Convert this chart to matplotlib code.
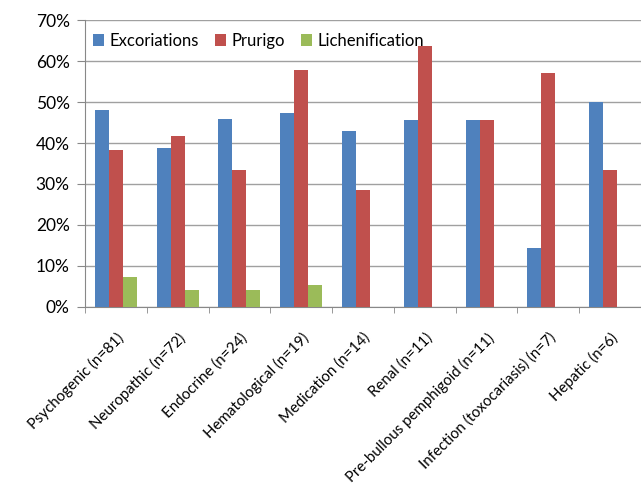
import matplotlib
matplotlib.use("Agg")
from matplotlib import pyplot as plt
from matplotlib.ticker import FixedLocator, PercentFormatter
import numpy as np

categories = ["Psychogenic (n=81)", "Neuropathic (n=72)", "Endocrine (n=24)",
              "Hematological (n=19)", "Medication (n=14)", "Renal (n=11)",
              "Pre-bullous pemphigoid (n=11)", "Infection (toxocariasis) (n=7)",
              "Hepatic (n=6)"]
excoriations = [48.1, 38.9, 45.8, 47.4, 42.9, 45.5, 45.5, 14.3, 50.0]
prurigo = [38.3, 41.7, 33.3, 57.9, 28.6, 63.6, 45.5, 57.1, 33.3]
lichenification = [7.4, 4.2, 4.2, 5.3, 0, 0, 0, 0, 0]

plt.rcParams['font.family'] = ['Lato', 'DejaVu Sans']

fig = plt.figure(figsize=(6.41, 4.91), dpi=100)
ax = fig.add_axes([0.1326, 0.375, 0.8674, 0.584])

x = np.arange(len(categories))
w = 0.226
ax.bar(x - w, excoriations, w, color="#4F81BD", label="Excoriations", zorder=3)
ax.bar(x, prurigo, w, color="#C0504D", label="Prurigo", zorder=3)
ax.bar(x + w, lichenification, w, color="#9BBB59", label="Lichenification", zorder=3)

ax.set_ylim(0, 70)
ax.set_xlim(-0.5, 8.5)
ax.set_yticks(range(0, 71, 10))
ax.yaxis.set_major_formatter(PercentFormatter(decimals=0))
ax.yaxis.grid(True, color="#a0a0a0", linewidth=1, zorder=0)

ax.set_xticks(x)
ax.set_xticklabels(categories, rotation=45, ha="right", rotation_mode="anchor", fontsize=10.8)
ax.tick_params(axis="x", length=0, pad=17)
ax.xaxis.set_minor_locator(FixedLocator(np.arange(-0.5, 9, 1)))
ax.tick_params(axis="x", which="minor", length=4.5, color="#888888")
ax.tick_params(axis="y", length=6, pad=5, color="#888888", labelsize=12.5)

for s in ["top", "right"]:
    ax.spines[s].set_visible(False)
ax.spines["left"].set_color("#888888")
ax.spines["bottom"].set_color("#888888")

ax.legend(loc="upper left", ncol=3, frameon=False, fontsize=12,
          handlelength=0.65, handleheight=0.7, handletextpad=0.3, columnspacing=1.0,
          bbox_to_anchor=(0.0, 0.985), borderaxespad=0.1)

fig.savefig("out.png", dpi=100)
